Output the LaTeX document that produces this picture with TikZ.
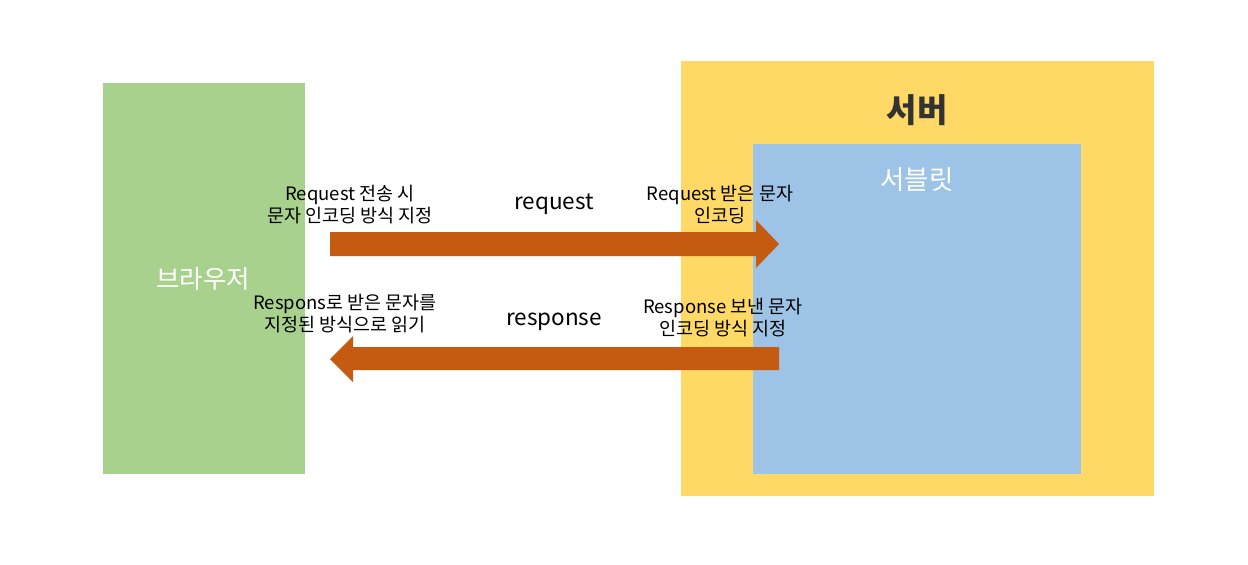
\documentclass[tikz,border=0pt]{standalone}
\usepackage{fontspec}
\setmainfont{Noto Sans CJK KR}
\begin{document}
\begin{tikzpicture}[x=1pt,y=-1pt,
  lbl/.style={align=center,font=\fontsize{18.5}{22}\selectfont,text=black,inner sep=0pt},
  big/.style={font=\fontsize{22.5}{26}\selectfont,text=black,inner sep=0pt}]
\definecolor{green1}{HTML}{A9D18E}
\definecolor{yellow1}{HTML}{FFD966}
\definecolor{blue1}{HTML}{9DC3E6}
\definecolor{orange1}{HTML}{C55A11}
\useasboundingbox[fill=white] (0,0) rectangle (1248,565);
% browser
\fill[green1] (103,83) rectangle (305,474);
\node[text=white,font=\fontsize{25.5}{30}\selectfont,inner sep=0pt] (browser) at (203,279) {브라우저};
% server
\fill[yellow1] (681,61) rectangle (1154,496);
\node[text=black!80,font=\fontsize{33}{38}\selectfont\bfseries,inner sep=0pt] (server) at (917,110) {서버};
\fill[blue1] (753,144) rectangle (1081,474);
\node[text=white,font=\fontsize{26.5}{30}\selectfont,inner sep=0pt] (servlet) at (917,180) {서블릿};
% arrows
\fill[orange1] (330,232) -- (756,232) -- (756,220) -- (779,244) -- (756,268) -- (756,256) -- (330,256) -- cycle;
\fill[orange1] (779,347) -- (353,347) -- (353,336) -- (330,359) -- (353,382) -- (353,370) -- (779,370) -- cycle;
% labels
\node[lbl] (t1) at (350,205) {Request 전송 시\\문자 인코딩 방식 지정};
\node[big] (req) at (554,204) {request};
\node[lbl] (t2) at (720,205) {Request 받은 문자\\인코딩};
\node[lbl] (t3) at (345,314) {Respons로 받은 문자를\\지정된 방식으로 읽기};
\node[big] (resp) at (554,322) {response};
\node[lbl] (t4) at (723,317.5) {Response 보낸 문자\\인코딩 방식 지정};
\end{tikzpicture}
\end{document}
